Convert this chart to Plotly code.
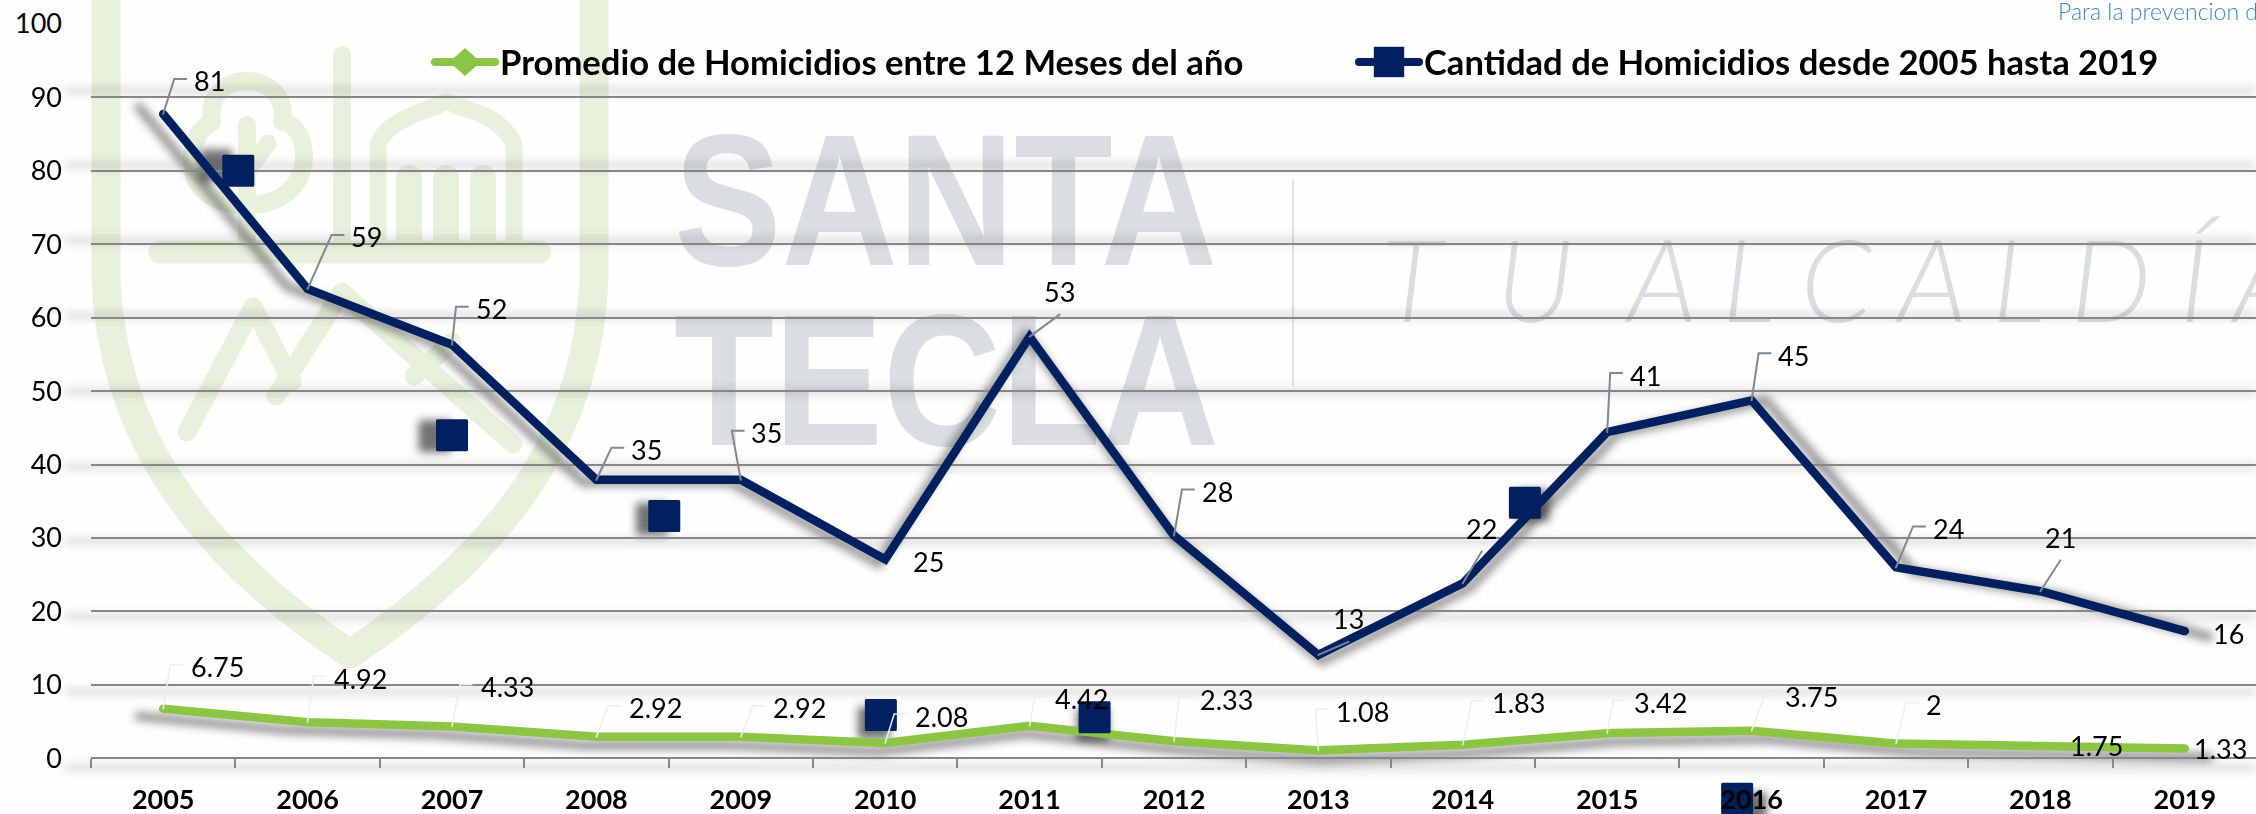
import re
import plotly.graph_objects as go

# ---------- data ----------
years = [2005, 2006, 2007, 2008, 2009, 2010, 2011, 2012, 2013, 2014, 2015, 2016, 2017, 2018, 2019]
promedio = [6.75, 4.92, 4.33, 2.92, 2.92, 2.08, 4.42, 2.33, 1.08, 1.83, 3.42, 3.75, 2, 1.75, 1.33]
cantidad = [81, 59, 52, 35, 35, 25, 53, 28, 13, 22, 41, 45, 24, 21, 16]
square_x = [2005.52, 2007.0, 2008.47, 2009.97, 2011.45, 2014.43, 2015.9]
square_y = [80, 44, 33, 5.9, 5.6, 34.8, -5.5]
y_ticks = [0, 10, 20, 30, 40, 50, 60, 70, 80, 90, 100]
promedio_txt = ["6.75", "4.92", "4.33", "2.92", "2.92", "2.08", "4.42", "2.33", "1.08", "1.83", "3.42", "3.75", "2", "1.75", "1.33"]
name_a = "Promedio de Homicidios entre 12 Meses del año"
name_b = "Cantidad de Homicidios desde 2005 hasta 2019"

# ---------- label placement (pixels relative to the point) ----------
dark_dx = [46, 59, 39, 50, 26, 43, 30, 43, 30, 19, 38, 42, 52, 20, 44]
dark_dy = [-33, -52, -36, -30, -47, 2, -45, -44, -36, -55, -57, -45, -39, -54, 2]
dark_kind = ["e", "e", "e", "e", "e", "", "s", "e", "s", "s", "e", "e", "e", "s", ""]
green_dx = [54, 53, 55, 59, 59, 56, 52, 52, 44, 56, 53, 60, 38, 56, 36]
green_dy = [-42, -44, -40, -29, -29, -27, -27, -42, -39, -42, -31, -34, -39, 0, 0]
green_kind = ["e"] * 13 + ["", ""]

# ---------- geometry ----------
W, H = 2256, 814
LEFT, TOP, BOTTOM = 91.0, 24.0, 758.3
PXX = 144.4
PXY = (BOTTOM - TOP) / 100
CX, CY = 1174.0, 391.0
SX, SY = 1.024, 1.024   # the shadow is a copy of the plot, enlarged around the centre
DARK, GREEN = "#002060", "#8CC444"
GRID = "#878787"
PALE = "#E8F1DC"
WM = "#DADDE1"
INK = "#000000"
FONT = "Lato, 'Open Sans', sans-serif"

x0 = years[0] - 0.5
x_range = [x0, x0 + (W - LEFT) / PXX]
x_dom = [LEFT / W, 1]
# the y axes run down to the page edge so that the square lying below zero stays in range
y_low = -(H - BOTTOM) / PXY
y_dom = [0, (H - TOP) / H]
sleft = CX + (LEFT - CX) * SX
s_range = [x0, x0 + (W - sleft) / (PXX * SX)]
s_dom = [sleft / W, 1]
s_bottom = CY + (BOTTOM - CY) * SY
s_low = -(H - s_bottom) / (PXY * SY)
sdom_y = [0, (H - (CY + (TOP - CY) * SY)) / H]

fig = go.Figure()

# shadows (lowest subplot, blurred by the post script)
fig.add_trace(go.Scatter(x=years, y=promedio, stackgroup="s", fill="none", mode="lines",
                         line=dict(color="rgba(20,20,20,.45)", width=9), xaxis="x", yaxis="y",
                         showlegend=False, hoverinfo="skip", cliponaxis=False))
fig.add_trace(go.Scatter(x=years, y=cantidad, stackgroup="s", fill="none", mode="lines",
                         line=dict(color="rgba(20,20,20,.45)", width=9), xaxis="x", yaxis="y",
                         showlegend=False, hoverinfo="skip", cliponaxis=False))
fig.add_trace(go.Scatter(x=square_x, y=square_y, mode="markers",
                         marker=dict(symbol="square", size=32, color="rgba(20,20,20,.6)"),
                         xaxis="x", yaxis="y", showlegend=False, hoverinfo="skip", cliponaxis=False))

# real series, stacked as in the source chart
fig.add_trace(go.Scatter(x=years, y=promedio, stackgroup="r", fill="none", mode="lines", name=name_a,
                         line=dict(color=GREEN, width=8.5), xaxis="x2", yaxis="y2", showlegend=False))
fig.add_trace(go.Scatter(x=years, y=cantidad, stackgroup="r", fill="none", mode="lines", name=name_b,
                         line=dict(color=DARK, width=8.5), xaxis="x2", yaxis="y2", showlegend=False))
fig.add_trace(go.Scatter(x=square_x, y=square_y, mode="markers", name=name_b,
                         marker=dict(symbol="square", size=29, color=DARK, line=dict(color=DARK, width=3)),
                         xaxis="x2", yaxis="y2", showlegend=False, cliponaxis=False))

# legend carriers
fig.add_trace(go.Scatter(x=[None], y=[None], mode="lines+markers", name=name_a,
                         line=dict(color=GREEN, width=7),
                         marker=dict(symbol="diamond", size=16, color=GREEN), xaxis="x2", yaxis="y2"))
fig.add_trace(go.Scatter(x=[None], y=[None], mode="lines+markers", name=name_b,
                         line=dict(color=DARK, width=7),
                         marker=dict(symbol="square", size=16, color=DARK), xaxis="x2", yaxis="y2"))

# data labels and leader lines
totals = [a + b for a, b in zip(promedio, cantidad)]
annotations = []


def add_labels(texts, base, dxs, dys, kinds, half, color, width):
    lx_all, ly_all = [], []
    for t, yr, v, dx, dy, k in zip(texts, years, base, dxs, dys, kinds):
        annotations.append(dict(x=yr, y=v, xref="x2", yref="y2", text=t, showarrow=False,
                                xshift=dx, yshift=-dy, xanchor="center", yanchor="middle",
                                font=dict(family=FONT, size=27, color=INK)))
        hw = half(t)
        if k == "e":
            elbow_x, stub_x = dx - hw - 20, dx - hw - 8
            ey = dy - 2
            lx_all += [yr, yr + elbow_x / PXX, yr + stub_x / PXX, None]
            ly_all += [v, v - ey / PXY, v - ey / PXY, None]
        elif k == "s":
            lx_all += [yr, yr + dx / PXX, None]
            ly_all += [v, v - (dy + 23) / PXY, None]
    fig.add_trace(go.Scatter(x=lx_all, y=ly_all, mode="lines", line=dict(color=color, width=width),
                             xaxis="x2", yaxis="y2", showlegend=False, hoverinfo="skip"))


add_labels(promedio_txt, promedio, green_dx, green_dy, green_kind,
           lambda t: 8 if len(t) == 1 else 27, "#EEEEEE", 1.5)
add_labels([str(v) for v in cantidad], totals, dark_dx, dark_dy, dark_kind,
           lambda t: 15, "#7F8790", 2)

annotations.append(dict(x=2056 / W, y=(H - 11) / H, xref="paper", yref="paper", xanchor="left", yanchor="middle",
                        text="Para la prevencion d", showarrow=False,
                        font=dict(family=FONT, size=23, color="#3F87C4", weight=300)))


# ---------- watermark (logo and wordmark beneath the grid) ----------
def P(d):
    vals = iter(range(10000))

    def rep(m):
        i = next(vals)
        v = float(m.group(0))
        return f"{v / W:.5f}" if i % 2 == 0 else f"{(H - v) / H:.5f}"

    return re.sub(r"-?\d+\.?\d*", rep, d)


logo = [
    ("M106,-20 L106,280 C112,420 180,540 350,654 C520,540 588,420 594,280 L594,-20", 29),
    ("M160,252 L540,252", 23),
    ("M342,55 L342,252", 18),
    ("M247,81 C222,81 208,100 212,122 C196,130 192,148 192,160 C192,188 212,205 247,205 "
     "C282,205 304,185 304,155 C304,135 292,122 282,122 C286,100 272,81 247,81 Z", 18),
    ("M247,125 L247,252", 18),
    ("M247,172 L268,143", 17),
    ("M378,252 L378,145 C385,122 420,112 437,106 Q447,98 457,106 C480,112 505,122 514,145 L514,252", 17),
    ("M409,178 L409,245", 26),
    ("M446,178 L446,245", 26),
    ("M483,178 L483,245", 26),
    ("M187,432 L253,307 L292,382", 19),
    ("M276,396 L342,292 L513,444", 19),
    ("M414,376 L452,342", 19),
]
shapes = [dict(type="path", xref="paper", yref="paper", path=P(d), layer="below",
               line=dict(color=PALE, width=w), fillcolor="rgba(0,0,0,0)") for d, w in logo]
shapes.append(dict(type="line", xref="paper", yref="paper", x0=1293 / W, x1=1293 / W,
                   y0=(H - 181) / H, y1=(H - 385) / H, line=dict(color="#DFE1E4", width=2), layer="below"))


def word(text, x_left, y_mid, size, family, weight=None, style=None):
    f = dict(family=family, size=size, color=WM)
    if weight:
        f["weight"] = weight
    if style:
        f["style"] = style
    return dict(type="rect", xref="paper", yref="paper", layer="below", line=dict(width=0),
                x0=x_left / W, x1=x_left / W + 0.001, y0=(H - y_mid) / H, y1=(H - y_mid) / H + 0.001,
                label=dict(text=text, font=f, textposition="middle left", xanchor="left", yanchor="middle", padding=0))


shapes.append(word("SANTA", 671, 182, 188, "'Liberation Sans'", 700))
shapes.append(word("TECLA", 671, 362, 188, "'Liberation Sans'", 700))
shapes.append(word("T\u00a0\u00a0U\u00a0\u00a0A\u00a0L\u00a0C\u00a0A\u00a0L\u00a0D\u00a0Í\u00a0A", 1378, 277, 114, FONT, 300, "italic"))

axis_off = dict(showticklabels=False, ticks="", showline=False, zeroline=False)
fig.update_layout(
    width=W, height=H, margin=dict(l=0, r=0, t=0, b=0, pad=0, autoexpand=False), autosize=False,
    paper_bgcolor="#FEFEFE", plot_bgcolor="rgba(0,0,0,0)",
    font=dict(family=FONT, color=INK),
    xaxis=dict(domain=s_dom, range=s_range, showgrid=False, **axis_off),
    yaxis=dict(domain=sdom_y, range=[s_low, 100], tickvals=y_ticks, showgrid=True,
               gridcolor="rgba(30,30,30,.14)", gridwidth=7, **axis_off),
    xaxis2=dict(domain=x_dom, range=x_range, anchor="free", position=(H - BOTTOM) / H,
                tickvals=years, ticktext=[str(y) for y in years],
                ticks="", showgrid=False, showline=True, linecolor=GRID, linewidth=2, zeroline=False,
                ticklabelstandoff=17, tickfont=dict(family=FONT, size=27, color=INK, weight=700),
                minor=dict(tickvals=[y - 0.5 for y in years], ticks="outside", ticklen=9, tickwidth=2,
                           tickcolor=GRID, showgrid=False)),
    yaxis2=dict(domain=y_dom, range=[y_low, 100], anchor="x2", tickvals=y_ticks, ticks="", showline=False,
                zeroline=False, showgrid=True, gridcolor=GRID, gridwidth=2, ticklabelstandoff=28,
                tickfont=dict(family=FONT, size=27, color=INK)),
    legend=dict(orientation="h", x=430 / W, xanchor="left", y=(H - 62) / H, yanchor="middle",
                bgcolor="rgba(0,0,0,0)", borderwidth=0, itemwidth=60, entrywidth=849, entrywidthmode="pixels",
                font=dict(family=FONT, size=34.6, color=INK, weight=700), traceorder="normal"),
    annotations=annotations, shapes=shapes, hovermode=False,
)

post = """
document.body.style.margin = '0';
document.body.style.overflow = 'hidden';
var gd = document.getElementById('{plot_id}');
gd.querySelectorAll('.subplot.xy').forEach(function(g){ g.style.filter = 'blur(4px)'; });
gd.querySelectorAll('.js-line').forEach(function(p){ p.style.strokeLinecap = 'round'; });
gd.querySelectorAll('.subplot.x2y2 .points path').forEach(function(p){ p.style.strokeLinejoin = 'round'; });
gd.querySelectorAll('.legendlines path').forEach(function(p){ p.style.strokeWidth = '8px'; p.style.strokeLinecap = 'round'; });
gd.querySelectorAll('.legendpoints path.scatterpts').forEach(function(p, i){
  var t = p.getAttribute('transform') || '';
  p.setAttribute('transform', t + (i === 0 ? ' scale(1.5,1.35)' : ' scale(1.9)'));
  p.style.strokeLinejoin = 'round';
});
gd.querySelectorAll('.layer-below path, .shapelayer path').forEach(function(p){
  p.style.strokeLinecap = 'round'; p.style.strokeLinejoin = 'round';
});
gd.querySelectorAll('.layer-below text, .shapelayer text').forEach(function(t){
  if (t.textContent === 'SANTA') { t.setAttribute('textLength', 543); t.setAttribute('lengthAdjust', 'spacingAndGlyphs'); }
  if (t.textContent === 'TECLA') { t.setAttribute('textLength', 545); t.setAttribute('lengthAdjust', 'spacingAndGlyphs'); }
});
"""
fig.write_html("out.html", config=dict(displayModeBar=False), post_script=post)
